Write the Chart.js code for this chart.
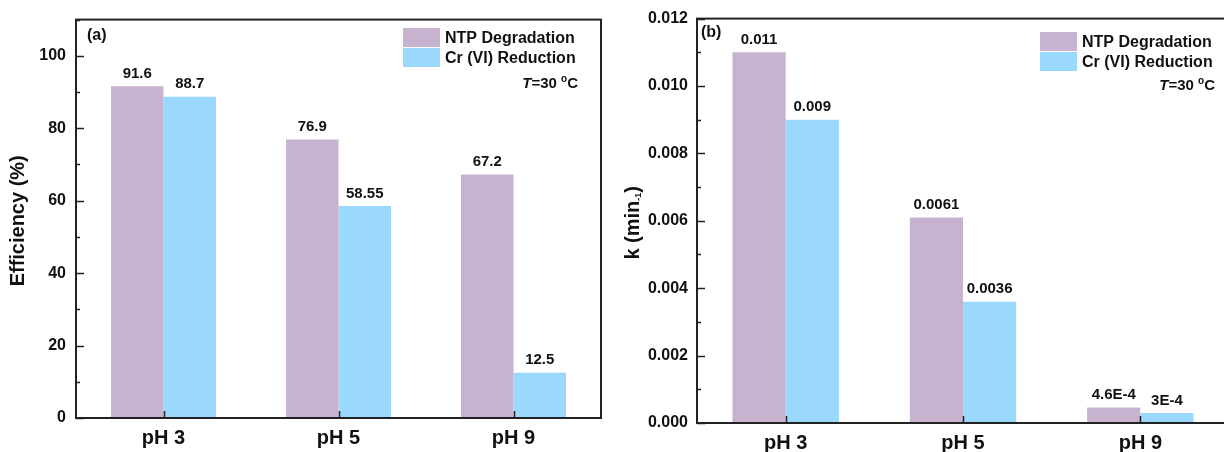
<!DOCTYPE html>
<html>
<head>
<meta charset="utf-8">
<script src="https://cdn.jsdelivr.net/npm/chart.js@4.4.0/dist/chart.umd.min.js"></script>
<style>
  html, body { margin: 0; padding: 0; background: #fff; overflow: hidden; }
  body { width: 1224px; height: 452px; position: relative; }
  .panel { position: absolute; top: 0; }
</style>
</head>
<body>
<div class="panel" style="left:0px"><canvas id="chartA" width="612" height="452"></canvas></div>
<div class="panel" style="left:612px"><canvas id="chartB" width="620" height="452"></canvas></div>
<script>
// data
const categories = ['pH 3', 'pH 5', 'pH 9'];
const seriesNames = ['NTP Degradation', 'Cr (VI) Reduction'];

const effNTP = [91.6, 76.9, 67.2];
const effCr = [88.7, 58.55, 12.5];
const effLabelsNTP = ['91.6', '76.9', '67.2'];
const effLabelsCr = ['88.7', '58.55', '12.5'];

const kNTP = [0.011, 0.0061, 0.00046];
const kCr = [0.009, 0.0036, 0.0003];
const kLabelsNTP = ['0.011', '0.0061', '4.6E-4'];
const kLabelsCr = ['0.009', '0.0036', '3E-4'];

const purple = '#c7b3cf';
const blue = '#9bd8fd';
const ink = '#111';
const FONT = "'Liberation Sans', Arial, sans-serif";

// frame, inward ticks, value labels, legend, axis title
const decorations = {
    id: 'decorations',
    afterDatasetsDraw(chart, args, o) {
        const ctx = chart.ctx;
        const a = chart.chartArea;
        const y = chart.scales.y;
        const x = chart.scales.x;
        ctx.save();

        // value labels
        ctx.fillStyle = ink;
        ctx.font = 'bold 15px ' + FONT;
        ctx.textAlign = 'center';
        ctx.textBaseline = 'bottom';
        chart.data.datasets.forEach((ds, di) => {
            chart.getDatasetMeta(di).data.forEach((bar, i) => {
                ctx.fillText(o.valueLabels[di][i], bar.x, bar.y - 5);
            });
        });

        // frame
        ctx.strokeStyle = '#222';
        ctx.lineWidth = 2;
        ctx.strokeRect(a.left, a.top, a.right - a.left, a.bottom - a.top);

        // y ticks (inward)
        ctx.lineWidth = 1.5;
        const n = Math.round(o.yMax / o.minor);
        for (let k = 0; k <= n; k++) {
            const v = k * o.minor;
            const py = Math.round(y.getPixelForValue(v)) + 0.5;
            const len = (k % 2 === 0) ? 8 : 4;
            ctx.beginPath();
            ctx.moveTo(a.left, py);
            ctx.lineTo(a.left + len, py);
            ctx.stroke();
        }
        // x ticks at category centres
        categories.forEach((c, i) => {
            const px = Math.round(x.getPixelForValue(i)) + 0.5;
            ctx.beginPath();
            ctx.moveTo(px, a.bottom);
            ctx.lineTo(px, a.bottom - 7);
            ctx.stroke();
        });

        // panel tag
        ctx.fillStyle = ink;
        ctx.font = 'bold 16px ' + FONT;
        ctx.textAlign = 'left';
        ctx.textBaseline = 'middle';
        ctx.fillText(o.tag, o.tagX, o.tagY);

        // legend
        const L = o.legend;
        [purple, blue].forEach((col, i) => {
            ctx.fillStyle = col;
            ctx.fillRect(L.x, L.y + i * L.row, L.w, L.h);
            ctx.fillStyle = ink;
            ctx.font = 'bold 16px ' + FONT;
            ctx.fillText(seriesNames[i], L.x + L.w + 5, L.y + i * L.row + L.h / 2 + 1);
        });
        // T=30 oC, right aligned
        ctx.textBaseline = 'alphabetic';
        const base = L.tY;
        ctx.font = 'bold 15px ' + FONT;
        const wC = ctx.measureText('C').width;
        const w30 = ctx.measureText('=30 ').width;
        ctx.font = 'bold 10px ' + FONT;
        const wo = ctx.measureText('o').width;
        ctx.font = 'italic bold 15px ' + FONT;
        const wT = ctx.measureText('T').width;
        let cx = L.tRight - (wT + w30 + wo + wC);
        ctx.fillText('T', cx, base); cx += wT;
        ctx.font = 'bold 15px ' + FONT;
        ctx.fillText('=30 ', cx, base); cx += w30;
        ctx.font = 'bold 10px ' + FONT;
        ctx.fillText('o', cx, base - 6); cx += wo;
        ctx.font = 'bold 15px ' + FONT;
        ctx.fillText('C', cx, base);

        // y title, rotated
        ctx.translate(o.titleX, (a.top + a.bottom) / 2 + 2);
        ctx.rotate(-Math.PI / 2);
        ctx.font = 'bold 20px ' + FONT;
        ctx.textBaseline = 'middle';
        if (o.titleSub) {
            const w1 = ctx.measureText(o.title).width;
            ctx.font = 'bold 9px ' + FONT;
            const w2 = ctx.measureText(o.titleSub).width;
            ctx.font = 'bold 20px ' + FONT;
            const w3 = ctx.measureText(')').width;
            let tx = -(w1 + w2 + w3) / 2;
            ctx.textAlign = 'left';
            ctx.fillText(o.title, tx, 0); tx += w1;
            ctx.font = 'bold 9px ' + FONT;
            ctx.fillText(o.titleSub, tx, 6); tx += w2;
            ctx.font = 'bold 20px ' + FONT;
            ctx.fillText(')', tx, 0);
        } else {
            ctx.textAlign = 'center';
            ctx.fillText(o.title, 0, 0);
        }
        ctx.restore();
    }
};

function makeChart(id, ntp, cr, opts) {
    return new Chart(document.getElementById(id), {
        type: 'bar',
        data: {
            labels: categories,
            datasets: [
                { label: seriesNames[0], data: ntp, backgroundColor: purple, borderWidth: 0 },
                { label: seriesNames[1], data: cr, backgroundColor: blue, borderWidth: 0 }
            ]
        },
        options: {
            responsive: false,
            animation: false,
            events: [],
            layout: { padding: { top: 18, right: opts.padRight, bottom: 0, left: 0 } },
            datasets: { bar: { categoryPercentage: 0.6, barPercentage: 1.0 } },
            scales: {
                x: {
                    grid: { display: false, drawTicks: false },
                    border: { display: false },
                    ticks: { color: ink, font: { family: FONT, size: 20, weight: 'bold' }, padding: opts.xPad },
                    afterFit: s => { s.height = opts.xHeight; }
                },
                y: {
                    min: 0, max: opts.yMax,
                    grid: { display: false, drawTicks: false },
                    border: { display: false },
                    ticks: {
                        stepSize: opts.minor * 2,
                        color: ink,
                        padding: opts.yPad,
                        font: { family: FONT, size: 16, weight: 'bold' },
                        callback: opts.tickFmt
                    },
                    afterFit: s => { s.width = opts.yWidth; }
                }
            },
            plugins: {
                legend: { display: false },
                tooltip: { enabled: false },
                decorations: opts
            }
        },
        plugins: [decorations]
    });
}

makeChart('chartA', effNTP, effCr, {
    yMax: 110, minor: 10, padRight: 11, xHeight: 34, xPad: 8, yWidth: 76, yPad: 10,
    tickFmt: v => (Math.round(v) % 20 === 0 ? String(Math.round(v)) : ''),
    valueLabels: [effLabelsNTP, effLabelsCr],
    tag: '(a)', tagX: 87, tagY: 36,
    legend: { x: 403, y: 28, w: 37, h: 19, row: 20, tY: 88, tRight: 578 },
    title: 'Efficiency (%)', titleX: 18
});

makeChart('chartB', kNTP, kCr, {
    yMax: 0.012, minor: 0.001, padRight: 3, xHeight: 29, xPad: 8, yWidth: 85, yPad: 9,
    tickFmt: v => v.toFixed(3),
    valueLabels: [kLabelsNTP, kLabelsCr],
    tag: '(b)', tagX: 89, tagY: 33,
    legend: { x: 428, y: 32, w: 37, h: 19, row: 20, tY: 90, tRight: 603 },
    title: 'k (min', titleSub: '-1', titleX: 21
});
</script>
</body>
</html>
